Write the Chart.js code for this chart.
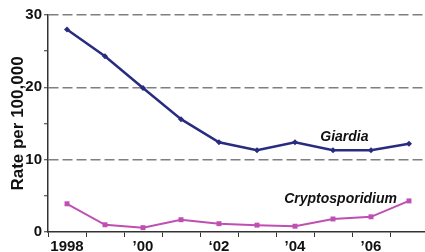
<!DOCTYPE html>
<html>
<head>
<meta charset="utf-8">
<script src="https://cdn.jsdelivr.net/npm/chart.js@4/dist/chart.umd.min.js"></script>
<style>
  html, body { margin: 0; padding: 0; background: #fff; overflow: hidden; }
  #wrap { width: 432px; height: 252px; position: relative; }
</style>
</head>
<body>
<div id="wrap"><canvas id="rateChart"></canvas></div>
<script>
// values
const years = ['1998', '1999', '2000', '2001', '2002', '2003', '2004', '2005', '2006', '2007'];
const yearTicks = ['1998', '', '\u201900', '', '\u201802', '', '\u201904', '', '\u201906', ''];
const giardia = [28.0, 24.3, 19.9, 15.6, 12.4, 11.3, 12.4, 11.3, 11.3, 12.2];
const crypto = [3.9, 1.0, 0.6, 1.7, 1.15, 0.95, 0.8, 1.8, 2.1, 4.3];

const navy = '#282C80';
const pink = '#BF4FB2';

// italic series names written next to the lines
const seriesNames = {
    id: 'seriesNames',
    afterDatasetsDraw(chart) {
        const ctx = chart.ctx;
        const x = chart.scales.x, y = chart.scales.y;
        ctx.save();
        ctx.font = 'italic bold 14px "Liberation Sans", Arial, sans-serif';
        ctx.fillStyle = '#111';
        ctx.textAlign = 'center';
        ctx.textBaseline = 'middle';
        ctx.fillText('Giardia', x.getPixelForValue(7.3), y.getPixelForValue(13.1));
        ctx.fillText('Cryptosporidium', x.getPixelForValue(7.2), y.getPixelForValue(4.5));
        ctx.restore();
    }
};

new Chart(document.getElementById('rateChart'), {
    type: 'line',
    data: {
        labels: years,
        datasets: [
            {
                label: 'Giardia',
                data: giardia,
                borderColor: navy,
                backgroundColor: navy,
                borderWidth: 2.5,
                pointStyle: 'rectRot',
                pointRadius: 3,
                pointBorderWidth: 0,
                tension: 0
            },
            {
                label: 'Cryptosporidium',
                data: crypto,
                borderColor: pink,
                backgroundColor: pink,
                borderWidth: 2,
                pointStyle: 'rect',
                pointRadius: 3.5,
                pointBorderWidth: 0,
                tension: 0
            }
        ]
    },
    options: {
        responsive: true,
        maintainAspectRatio: false,
        animation: false,
        layout: { padding: { top: 15, right: 3, left: 0, bottom: 0 } },
        plugins: {
            legend: { display: false },
            tooltip: { enabled: false }
        },
        scales: {
            x: {
                offset: true,
                grid: {
                    offset: true,
                    drawOnChartArea: false,
                    tickLength: 5,
                    tickColor: '#333',
                    tickWidth: 1
                },
                border: { color: '#333', width: 1.5 },
                ticks: {
                    autoSkip: false,
                    maxRotation: 0,
                    padding: 1,
                    color: '#111',
                    font: { family: '"Liberation Sans", Arial, sans-serif', size: 15, weight: 'bold' },
                    callback: function (v, i) { return yearTicks[i]; }
                },
                afterFit: function (scale) { scale.height = 20; }
            },
            y: {
                min: 0,
                max: 30,
                ticks: {
                    stepSize: 5,
                    padding: 2,
                    color: '#111',
                    font: { family: '"Liberation Sans", Arial, sans-serif', size: 15, weight: 'bold' },
                    callback: function (v) { return v % 10 === 0 ? v : ''; }
                },
                grid: {
                    lineWidth: 1.5,
                    color: function (c) {
                        return (c.tick && c.tick.value > 0 && c.tick.value % 10 === 0) ? '#7f7f7f' : 'rgba(0,0,0,0)';
                    },
                    tickColor: '#333',
                    tickWidth: 1,
                    tickLength: 4
                },
                border: { color: '#333', width: 1.5, dash: [10, 4] },
                title: {
                    display: true,
                    text: 'Rate per 100,000',
                    color: '#111',
                    padding: { top: 8, bottom: 0 },
                    font: { family: '"Liberation Sans", Arial, sans-serif', size: 17, weight: 'bold' }
                },
                afterFit: function (scale) { scale.width = 48; }
            }
        }
    },
    plugins: [seriesNames]
});
</script>
</body>
</html>
